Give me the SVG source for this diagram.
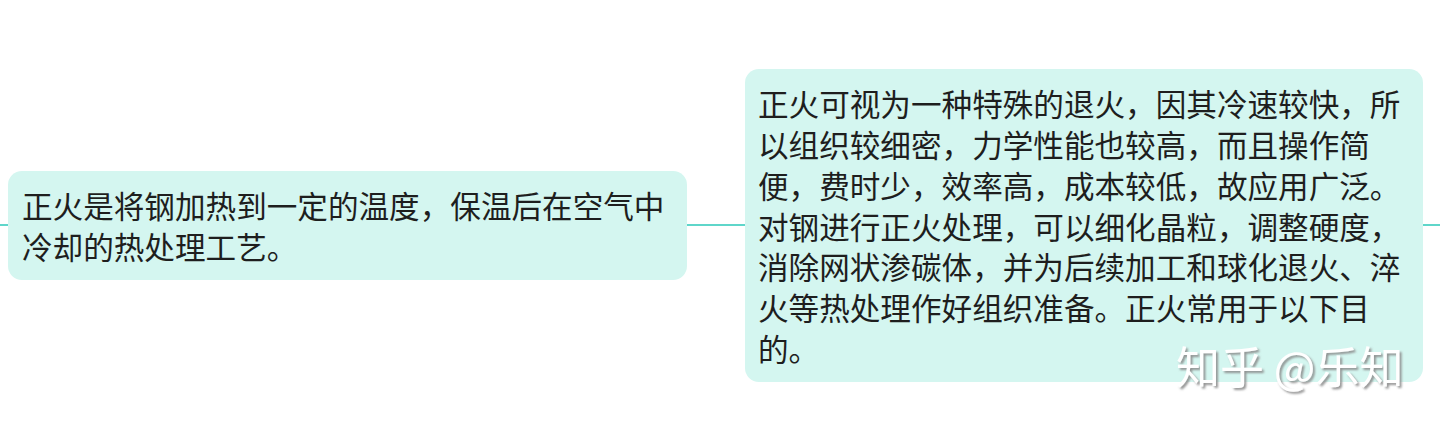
<svg xmlns="http://www.w3.org/2000/svg" width="1440" height="429" viewBox="0 0 1440 429">
  <defs>
    <style>
      .node { fill: #d4f6f0; }
      .txt { font-family: "Noto Sans CJK SC", "Noto Sans", sans-serif; font-size: 30.6px; fill: #1e1e1e; }
      .conn { stroke: #5fd6ca; stroke-width: 2; fill: none; }
      .wm { font-family: "Noto Sans CJK SC", sans-serif; font-size: 44px; fill: #ffffff; }
    </style>
    <filter id="shadow" x="-10%" y="-30%" width="120%" height="160%">
      <feDropShadow dx="2" dy="2" stdDeviation="1" flood-color="#888888" flood-opacity="0.9"/>
    </filter>
  </defs>
  <rect width="1440" height="429" fill="#ffffff"/>
  <g id="connectors">
    <line class="conn" x1="0" y1="225" x2="8" y2="225"/>
    <line class="conn" x1="687" y1="225" x2="745" y2="225"/>
    <line class="conn" x1="1423" y1="225" x2="1440" y2="225"/>
  </g>
  <g id="node-left">
    <rect class="node" x="8" y="171" width="679" height="109" rx="14"/>
    <text class="txt"><tspan x="22" y="218">正火是将钢加热到一定的温度，保温后在空气中</tspan><tspan x="22" y="259">冷却的热处理工艺。</tspan></text>
  </g>
  <g id="node-right">
    <rect class="node" x="745" y="69" width="678" height="313" rx="14"/>
    <text class="txt"><tspan x="758" y="116">正火可视为一种特殊的退火，因其冷速较快，所</tspan><tspan x="758" y="157">以组织较细密，力学性能也较高，而且操作简</tspan><tspan x="758" y="197.5">便，费时少，效率高，成本较低，故应用广泛。</tspan><tspan x="758" y="238.5">对钢进行正火处理，可以细化晶粒，调整硬度，</tspan><tspan x="758" y="279">消除网状渗碳体，并为后续加工和球化退火、淬</tspan><tspan x="758" y="320">火等热处理作好组织准备。正火常用于以下目</tspan><tspan x="758" y="361">的。</tspan></text>
  </g>
  <g id="watermark">
    <text class="wm" x="1176" y="384" filter="url(#shadow)">知乎 @乐知</text>
  </g>
</svg>
